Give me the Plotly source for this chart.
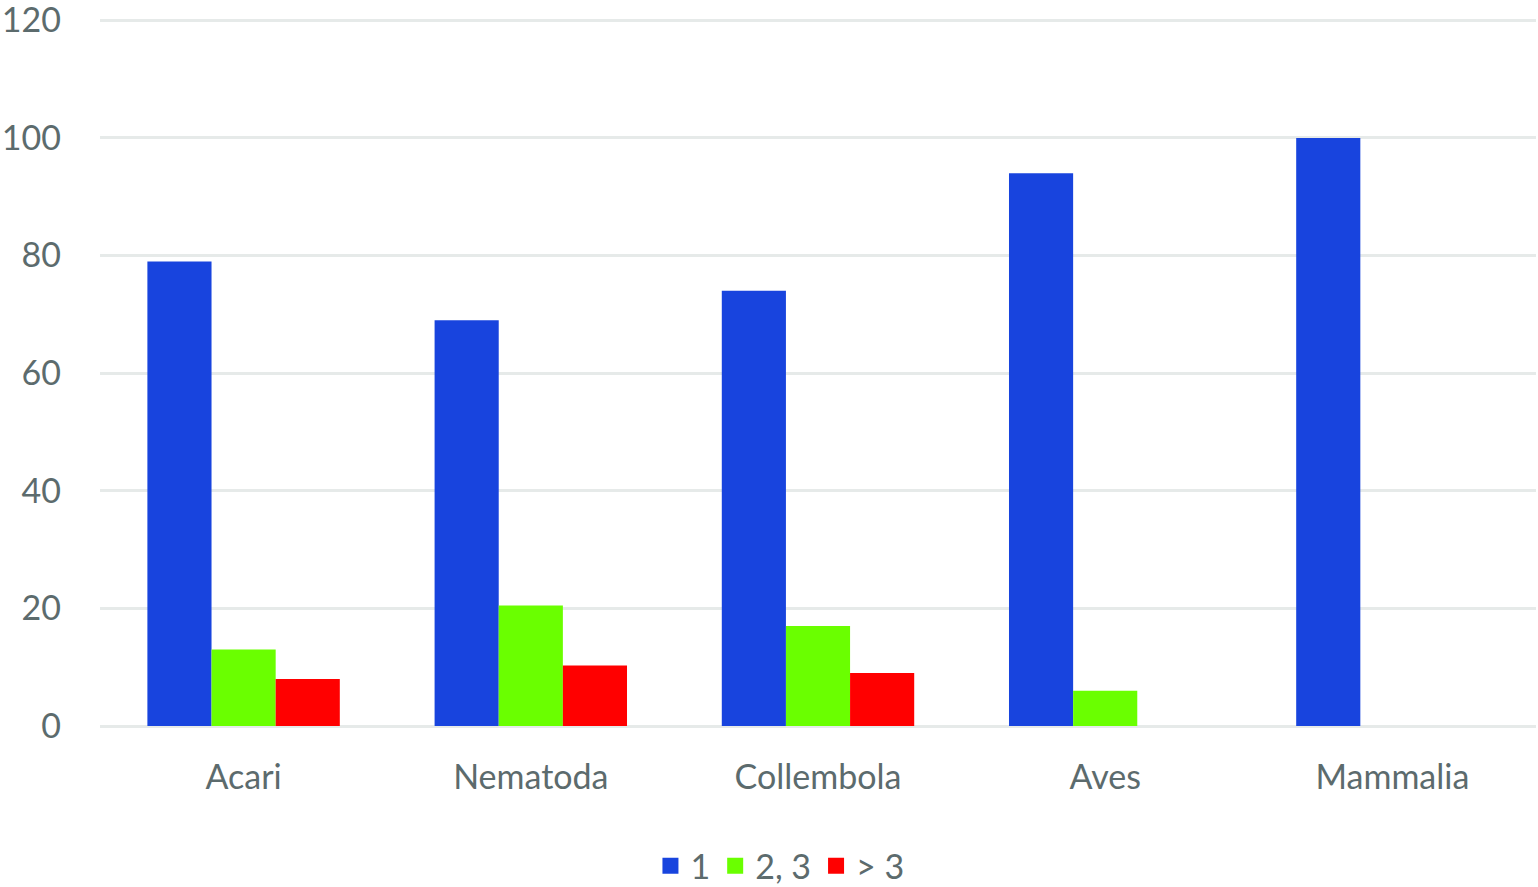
import plotly.graph_objects as go

# --- Data ---
categories = ['Acari', 'Nematoda', 'Collembola', 'Aves', 'Mammalia']
series_names = ['1', '2, 3', '> 3']
values_1 = [79, 69, 74, 94, 100]
values_23 = [13, 20.5, 17, 6, 0]
values_gt3 = [8, 10.3, 9, 0, 0]
y_ticks = [0, 20, 40, 60, 80, 100, 120]

colors = ['#1844DE', '#6AFF00', '#FF0000']
text_color = '#5C6B6D'
font_family = 'Lato, Open Sans, sans-serif'

fig = go.Figure()

for name, vals, col in zip(series_names, [values_1, values_23, values_gt3], colors):
    fig.add_trace(go.Bar(
        x=categories, y=vals, name=name,
        marker=dict(color=col, line=dict(width=0)),
        showlegend=False,
    ))
    # legend proxy with a bigger square marker
    fig.add_trace(go.Scatter(
        x=[None], y=[None], mode='markers', name=name,
        marker=dict(symbol='square', size=22, color=col),
    ))

fig.update_layout(
    width=1538, height=887,
    margin=dict(l=100, r=2, t=18, b=161, autoexpand=False),
    plot_bgcolor='white', paper_bgcolor='white',
    barmode='group', bargap=0.33, bargroupgap=0,
    font=dict(family=font_family, size=34, color=text_color),
    legend=dict(
        orientation='h', x=0.4735, xanchor='center', y=-0.198, yanchor='middle',
        font=dict(size=34, color=text_color), itemsizing='trace',
        traceorder='normal', itemwidth=30, tracegroupgap=0,
    ),
)

fig.update_yaxes(
    range=[0, 120.4], tickvals=y_ticks,
    showgrid=True, gridcolor='#E6EAE9', gridwidth=3,
    zeroline=True, zerolinecolor='#E6EAE9', zerolinewidth=3,
    showline=False, ticks='', ticklabelstandoff=38, automargin=False,
    ticklabeloverflow='allow',
)
fig.update_xaxes(
    showgrid=False, showline=False, ticks='', ticklabelstandoff=28,
    automargin=False,
)

# drop the default 8px body margin so the figure sits at the page corner
fig.write_html("out.html", config={'displayModeBar': False},
               post_script="document.body.style.margin='0';")
